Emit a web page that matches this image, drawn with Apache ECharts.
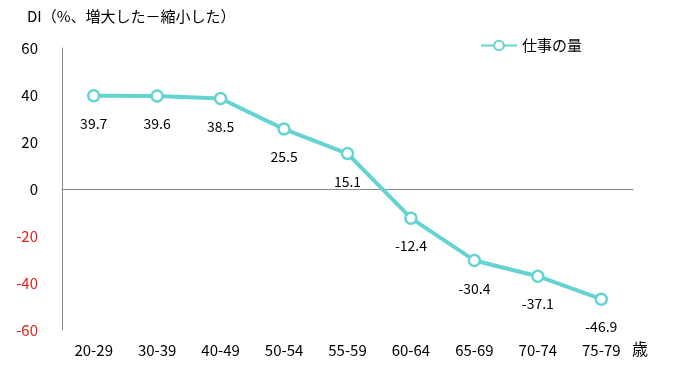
<!DOCTYPE html>
<html><head><meta charset="utf-8">
<script src="https://cdn.jsdelivr.net/npm/echarts@6/dist/echarts.min.js"></script>
<style>html,body{margin:0;padding:0;background:#fff}#c{width:679px;height:378px}</style>
</head><body><div id="c"></div>
<script>
const categories = ['20-29','30-39','40-49','50-54','55-59','60-64','65-69','70-74','75-79'];
const workVolume = [39.7, 39.6, 38.5, 25.5, 15.1, -12.4, -30.4, -37.1, -46.9];
const yTicks = [-60, -40, -20, 0, 20, 40, 60];
const FONT = '"Noto Sans CJK JP", sans-serif';
const chart = echarts.init(document.getElementById('c'));
chart.setOption({
  animation: false,
  textStyle: { fontFamily: FONT },
  title: { text: 'DI（%、増大した－縮小した）', left: 22, top: 4,
    textStyle: { fontSize: 15, fontWeight: 'normal', color: '#000', fontFamily: FONT } },
  legend: { data: ['仕事の量'], left: 475, top: 33, itemWidth: 36, itemHeight: 12, itemGap: 4,
    textStyle: { fontSize: 15, color: '#000', fontFamily: FONT } },
  grid: { left: 62, right: 46, top: 48, bottom: 48 },
  xAxis: { type: 'category', data: categories, boundaryGap: true,
    axisLine: { onZero: true, lineStyle: { color: '#888', width: 1 } },
    axisTick: { show: false },
    axisLabel: { fontSize: 15, color: '#000', margin: 13, fontFamily: FONT } },
  yAxis: { type: 'value', min: yTicks[0], max: yTicks[yTicks.length-1], interval: 20,
    axisLine: { show: true, lineStyle: { color: '#888' } },
    axisTick: { show: false }, splitLine: { show: false },
    axisLabel: { fontSize: 15, margin: 24, fontFamily: FONT, padding: [0, 0, 5, 0],
      color: v => (Number(v) < 0 ? '#e0201c' : '#000') } },
  graphic: [{ type: 'text', left: 632, top: 341,
    style: { text: '歳', fill: '#000', font: '16px "Noto Sans CJK JP"' } }],
  series: [{ name: '仕事の量', type: 'line', data: workVolume,
    symbol: 'circle', symbolSize: 11,
    lineStyle: { color: '#66d3d3', width: 4 },
    itemStyle: { color: '#fff', borderColor: '#66d3d3', borderWidth: 2.5 },
    label: { show: true, position: 'bottom', distance: 14, fontSize: 14, color: '#000',
      fontFamily: FONT, formatter: p => p.value.toFixed(1) } }]
});
</script></body></html>
